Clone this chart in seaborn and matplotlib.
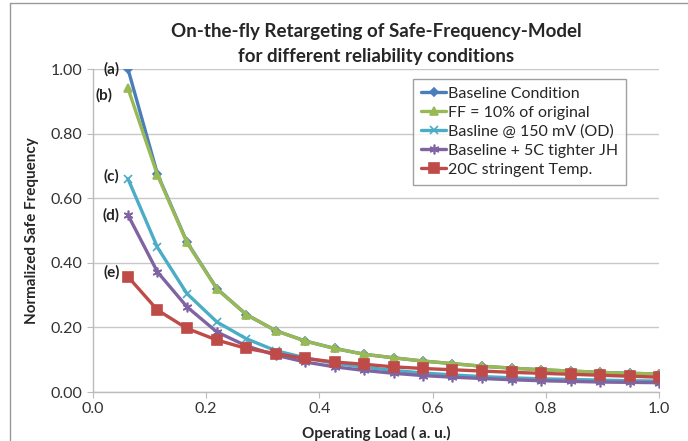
import matplotlib
matplotlib.use("Agg")
import matplotlib.pyplot as plt
from matplotlib.lines import Line2D
import seaborn as sns
import pandas as pd

load = [0.062, 0.114, 0.166, 0.219, 0.271, 0.323, 0.375, 0.427, 0.479, 0.531,
        0.583, 0.635, 0.687, 0.740, 0.792, 0.844, 0.896, 0.948, 1.000]

baseline = [1.000, 0.675, 0.465, 0.320, 0.240, 0.190, 0.158, 0.135, 0.117, 0.106,
            0.096, 0.088, 0.080, 0.074, 0.069, 0.065, 0.061, 0.058, 0.056]
ff10 = [0.940, 0.672, 0.463, 0.319, 0.240, 0.190, 0.158, 0.135, 0.117, 0.106,
        0.096, 0.088, 0.080, 0.074, 0.069, 0.065, 0.061, 0.058, 0.056]
od150 = [0.660, 0.448, 0.305, 0.217, 0.165, 0.128, 0.106, 0.089, 0.077, 0.067,
         0.059, 0.053, 0.048, 0.044, 0.041, 0.039, 0.037, 0.035, 0.034]
jh5c = [0.548, 0.372, 0.264, 0.186, 0.143, 0.114, 0.093, 0.078, 0.067, 0.058,
        0.051, 0.046, 0.042, 0.038, 0.035, 0.033, 0.031, 0.030, 0.029]
temp20c = [0.357, 0.254, 0.197, 0.161, 0.135, 0.119, 0.104, 0.093, 0.086, 0.078,
           0.073, 0.069, 0.065, 0.061, 0.058, 0.055, 0.052, 0.049, 0.046]

series_names = ["Baseline Condition", "FF = 10% of original", "Basline @ 150 mV (OD)",
                "Baseline + 5C tighter JH", "20C stringent Temp."]
series_values = [baseline, ff10, od150, jh5c, temp20c]
series_labels = ["(a)", "(b)", "(c)", "(d)", "(e)"]
label_offsets = [(-6, 0), (-11, -5), (-6, 2), (-6, 0), (-6, 3)]
colors = ["#4A7EBB", "#98B954", "#4BACC6", "#8064A2", "#BE4B48"]
markers = ["D", "^", "x", (6, 2, 0), "s"]
msizes = [4, 6, 6, 7, 7]

sns.set_style("white")
plt.rcParams['font.family'] = ['Lato', 'DejaVu Sans']

fig = plt.figure(figsize=(6.88, 4.41), dpi=100)
ax = fig.add_axes([0.135, 0.111, 0.823, 0.7325])

for name, vals, c, m, ms in zip(series_names, series_values, colors, markers, msizes):
    df = pd.DataFrame({"load": load, "freq": vals})
    sns.lineplot(data=df, x="load", y="freq", ax=ax, color=c, marker=m,
                 markersize=ms, linewidth=2.4, label=name,
                 markeredgecolor=c, markeredgewidth=1.2)

for lab, vals, off in zip(series_labels, series_values, label_offsets):
    ax.annotate(lab, xy=(load[0], vals[0]), xytext=off, textcoords="offset points",
                ha="right", va="center", fontsize=11, fontweight="bold", color="#222222")

ax.set_xlim(0, 1.0)
ax.set_ylim(0, 1.0)
ax.set_xticks([0.0, 0.2, 0.4, 0.6, 0.8, 1.0])
ax.set_yticks([0.0, 0.2, 0.4, 0.6, 0.8, 1.0])
ax.set_xticklabels([f"{v:.1f}" for v in ax.get_xticks()])
ax.set_yticklabels([f"{v:.2f}" for v in ax.get_yticks()])
ax.tick_params(axis="both", labelsize=11.5, colors="#333333", length=4,
               direction="out", bottom=True, left=True, color="#BBBBBB")
ax.yaxis.grid(True, color="#C8C8C8", linewidth=1)
ax.xaxis.grid(False)
for s in ["top", "right"]:
    ax.spines[s].set_visible(False)
for s in ["left", "bottom"]:
    ax.spines[s].set_color("#BBBBBB")
    ax.spines[s].set_linewidth(1)

ax.set_xlabel("Operating Load ( a. u.)", fontsize=11, fontweight="bold", labelpad=7)
ax.set_ylabel("Normalized Safe Frequency", fontsize=11, fontweight="bold", labelpad=8)
ax.set_title("On-the-fly Retargeting of Safe-Frequency-Model\nfor different reliability conditions",
             fontsize=13.5, fontweight="bold", pad=5, linespacing=1.6)

leg = ax.legend(loc="upper left", bbox_to_anchor=(0.565, 0.97), fontsize=11.5,
                frameon=True, fancybox=False, edgecolor="#888888", handlelength=1.6,
                handletextpad=0.1, borderpad=0.5, labelspacing=0.3, borderaxespad=0)
leg.get_frame().set_linewidth(1)

# chart-area border (top and left edges visible in the reference)
fig.add_artist(Line2D([10 / 688, 10 / 688], [0, 1 - 2.5 / 441], transform=fig.transFigure,
                      color="#999999", linewidth=1))
fig.add_artist(Line2D([10 / 688, 1], [1 - 2.5 / 441, 1 - 2.5 / 441], transform=fig.transFigure,
                      color="#999999", linewidth=1))

fig.savefig("out.png", dpi=100, facecolor="white")
